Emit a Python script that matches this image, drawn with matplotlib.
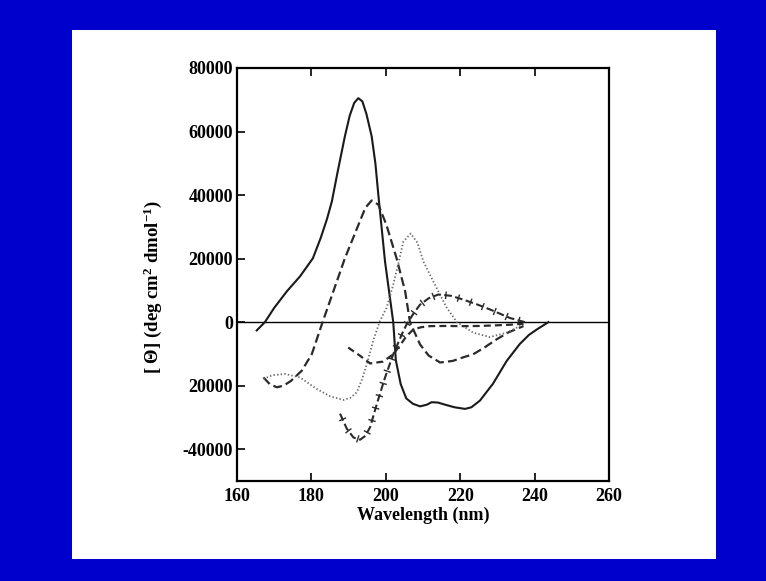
import matplotlib
matplotlib.use("Agg")
import matplotlib.pyplot as plt
import matplotlib.patheffects as pe
from matplotlib.patches import Rectangle

plt.rcParams['font.family'] = ['Liberation Serif', 'DejaVu Serif']
plt.rcParams['font.weight'] = 'bold'
plt.rcParams['mathtext.fontset'] = 'custom'
plt.rcParams['mathtext.rm'] = 'Liberation Serif:bold'
plt.rcParams['mathtext.it'] = 'Liberation Serif:bold'
plt.rcParams['mathtext.bf'] = 'Liberation Serif:bold'
plt.rcParams['lines.scale_dashes'] = False

# CD spectra (wavelength in nm, ellipticity)
helix_nm = [165.3, 167.5, 170.0, 173.4, 177.0, 180.4, 182.5, 184.2, 185.5, 187.0, 189.0, 190.3, 191.5,
            192.6, 193.7, 194.8, 196.2, 197.2, 198.0, 199.8, 202.0, 202.7, 204.0, 205.5, 207.3, 209.2,
            211.0, 212.3, 214.0, 216.0, 218.5, 221.3, 223.0, 225.3, 228.8, 232.5, 236.0, 238.5, 240.6, 243.7]
helix_val = [-2600, 0, 4500, 9700, 14500, 20100, 26500, 32500, 38000, 47000, 58500, 65000, 69000,
             70500, 69500, 65500, 58500, 50000, 40000, 19000, 0, -12000, -19500, -24000, -25700, -26500,
             -26000, -25200, -25300, -26000, -26800, -27300, -26800, -24700, -19400, -12200, -6900, -4000, -2300, 0]

beta_nm = [167.1, 168.8, 170.7, 172.5, 174.5, 177.4, 180.1, 183.0, 185.9, 189.0, 192.6, 194.5, 196.2,
           198.0, 200.2, 202.9, 205.2, 206.5, 209.2, 211.5, 214.6, 218.0, 221.0, 223.5, 226.5, 229.8,
           233.0, 237.0]
beta_val = [-17400, -19500, -20500, -20000, -18500, -15300, -10100, 0, 9700, 20100, 30500, 36000, 38300,
            37000, 30500, 20100, 9700, 0, -7000, -10500, -12700, -12200, -11000, -10100, -8000, -5400,
            -3200, -1250]

coil_nm = [167.1, 169.5, 172.9, 176.9, 181.4, 185.0, 188.6, 190.5, 192.2, 193.6, 194.9, 196.6, 198.4,
           200.2, 202.0, 203.5, 204.7, 206.7, 208.5, 210.1, 213.2, 216.4, 219.1, 223.5, 228.0, 232.5, 237.0]
coil_val = [-17900, -16700, -16300, -17400, -21000, -23300, -24500, -23800, -22100, -18000, -13200, -5900, 300,
            4500, 11800, 19000, 25300, 27900, 25000, 19100, 11800, 4500, 0, -3300, -4700, -3300, -700]

turn_nm = [187.7, 189.5, 191.3, 193.1, 194.5, 195.8, 197.6, 199.8, 202.0, 204.7, 205.6, 207.5, 209.2,
           211.5, 214.1, 217.5, 220.8, 224.5, 228.0, 233.4, 237.4]
turn_val = [-28800, -33500, -36300, -37000, -35800, -33000, -25700, -17400, -10100, -2800, -700, 2800, 5500,
            7500, 8700, 8300, 7100, 5600, 4000, 1300, 0]

other_nm = [189.9, 193.1, 195.8, 199.3, 202.0, 204.0, 205.5, 207.4, 209.5, 211.9, 216.0, 220.8, 225.0,
            229.8, 233.5, 237.0]
other_val = [-8000, -10600, -13000, -12400, -10100, -7000, -4500, -2300, -1600, -1250, -1200, -1250, -1200,
             -1000, -800, -500]

xticks = [160, 180, 200, 220, 240, 260]
yticks = [-40000, -20000, 0, 20000, 40000, 60000, 80000]
ytick_labels = ['-40000', '20000', '0', '20000', '40000', '60000', '80000']

fig = plt.figure(figsize=(7.66, 5.81), dpi=100, facecolor='#0000cc')
# white slide panel
fig.patches.append(Rectangle((72 / 766, 1 - 559 / 581), 644 / 766, 529 / 581,
                             transform=fig.transFigure, facecolor='white', edgecolor='none', zorder=-10))

ax = fig.add_axes([237 / 766, 1 - 481 / 581, 372 / 766, 413 / 581])
ax.set_facecolor('white')

ax.axhline(0, color='black', lw=1.0)
ax.plot(helix_nm, helix_val, color='#1a1a1a', lw=1.5)
ax.plot(beta_nm, beta_val, color='#2a2a2a', lw=1.6, dashes=(6.5, 3))
ax.plot(coil_nm, coil_val, color='#6a6a6a', lw=1.3, dashes=(1, 1.6))
ax.plot(turn_nm, turn_val, color='#2a2a2a', lw=1.5, dashes=(5.5, 2.5),
        path_effects=[pe.Normal(),
                      pe.TickedStroke(angle=90, spacing=9, length=0.3, linewidth=1.0),
                      pe.TickedStroke(angle=-90, spacing=9, length=0.3, linewidth=1.0)])
ax.plot(other_nm, other_val, color='#2a2a2a', lw=1.6, dashes=(5, 3))

ax.set_xlim(160, 260)
ax.set_ylim(-50000, 80000)
ax.set_xticks(xticks)
ax.set_yticks(yticks)
ax.set_yticklabels(ytick_labels)
ax.tick_params(axis='both', direction='in', length=6, width=1.2, labelsize=13, pad=4)
ax.tick_params(axis='x', top=True, pad=5)
ax.tick_params(axis='y', pad=3)
for lab in ax.get_xticklabels() + ax.get_yticklabels():
    lab.set_fontweight('bold')
for sp in ax.spines.values():
    sp.set_linewidth(1.6)

fig.text(423 / 766, 1 - 515 / 581, 'Wavelength (nm)', ha='center', va='center',
         fontsize=13, fontweight='bold')
fig.text(153 / 766, 1 - 287 / 581, r'[ $\Theta$] (deg cm$^{2}$ dmol$^{-1}$)', ha='center', va='center',
         rotation=90, fontsize=13.5, fontweight='bold')

fig.savefig('out.png', dpi=100, facecolor=fig.get_facecolor())
